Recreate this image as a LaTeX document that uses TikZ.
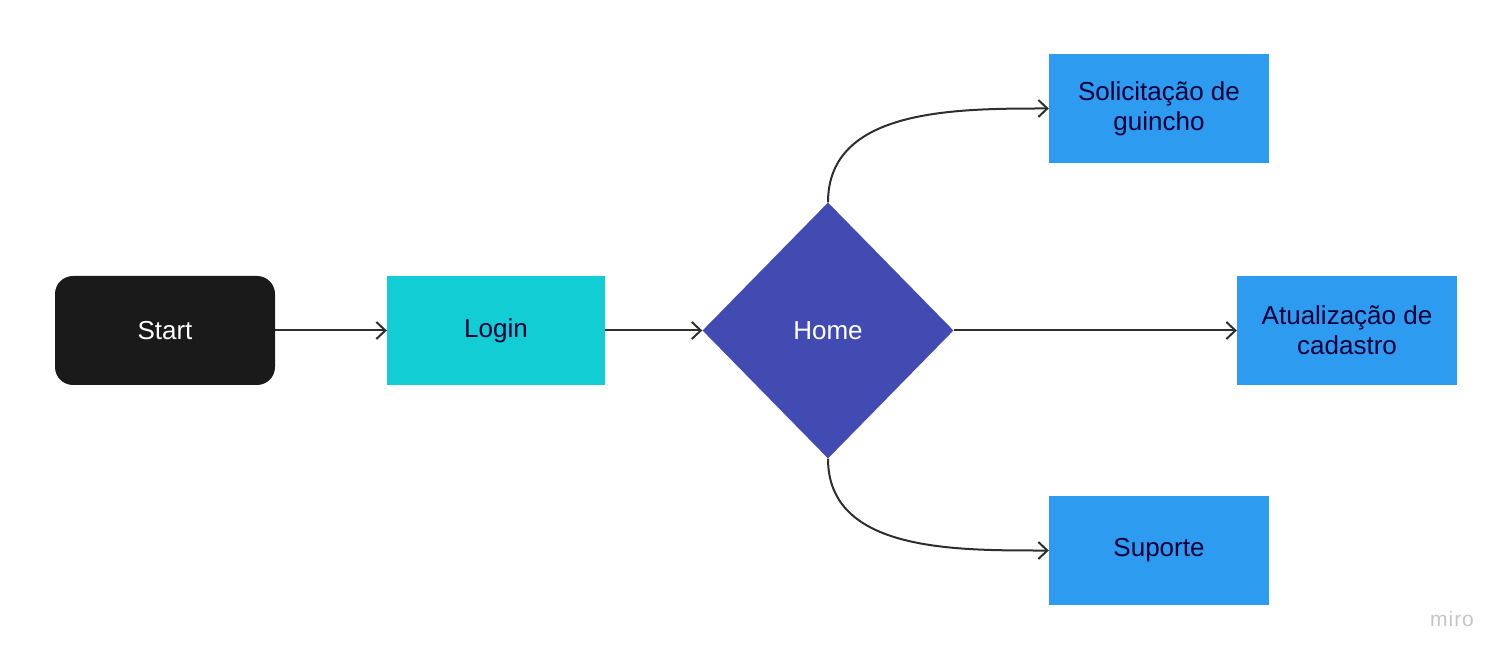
\documentclass[tikz,border=0pt]{standalone}
\usepackage{fontspec}
\setmainfont{Liberation Sans}
\usetikzlibrary{shapes.geometric,arrows.meta}

\definecolor{startblack}{HTML}{1A1A1A}
\definecolor{logincyan}{HTML}{12CDD4}
\definecolor{homeindigo}{HTML}{414BB2}
\definecolor{pageblue}{HTML}{2D9BF0}
\definecolor{navytext}{HTML}{050038}
\definecolor{linkgrey}{HTML}{2E2E2E}
\definecolor{mirogrey}{HTML}{C4C4CC}

\begin{document}
\begin{tikzpicture}[x=1pt,y=1pt]
	\tikzstyle{box}=[rectangle,minimum width=220pt,minimum height=109pt,inner sep=0pt,align=center,font=\fontsize{26}{30}\selectfont]
	\tikzstyle{startbox}=[box,rounded corners=18pt,fill=startblack,text=white]
	\tikzstyle{loginbox}=[box,minimum width=218pt,fill=logincyan,text=navytext]
	\tikzstyle{pagebox}=[box,fill=pageblue,text=navytext]
	\tikzstyle{decision}=[diamond,minimum width=251pt,minimum height=256pt,inner sep=0pt,fill=homeindigo,text=white,font=\fontsize{26}{30}\selectfont]
	\tikzstyle{link}=[draw=linkgrey,line width=2pt,-{Straight Barb[length=9pt,width=17pt,line width=2pt]}]

	\useasboundingbox (0,0) rectangle (1511,661);

	\node [startbox] (start) at (165,330.5) {Start};
	\node [loginbox] (login) at (496,330.5) {Login};
	\node [decision] (home) at (828,330.5) {Home};
	\node [pagebox] (guincho) at (1159,552.5) {Solicitação de\\guincho};
	\node [pagebox] (cadastro) at (1347,330.5) {Atualização de\\cadastro};
	\node [pagebox] (suporte) at (1159,110.5) {Suporte};
	\node [text=mirogrey,font=\fontsize{21}{21}\selectfont] (miro) at (1452,42) {m\kern1pt i\kern1pt r\kern1pt o};

	\foreach \source/\dest in
	{start/login,login/home,home/cadastro}
	  \draw [link] (\source) to (\dest);

	\foreach \dest/\side in
	{guincho/90,suporte/-90}
	  \draw [link] (home) to[out=\side,in=180] (\dest);
\end{tikzpicture}
\end{document}
